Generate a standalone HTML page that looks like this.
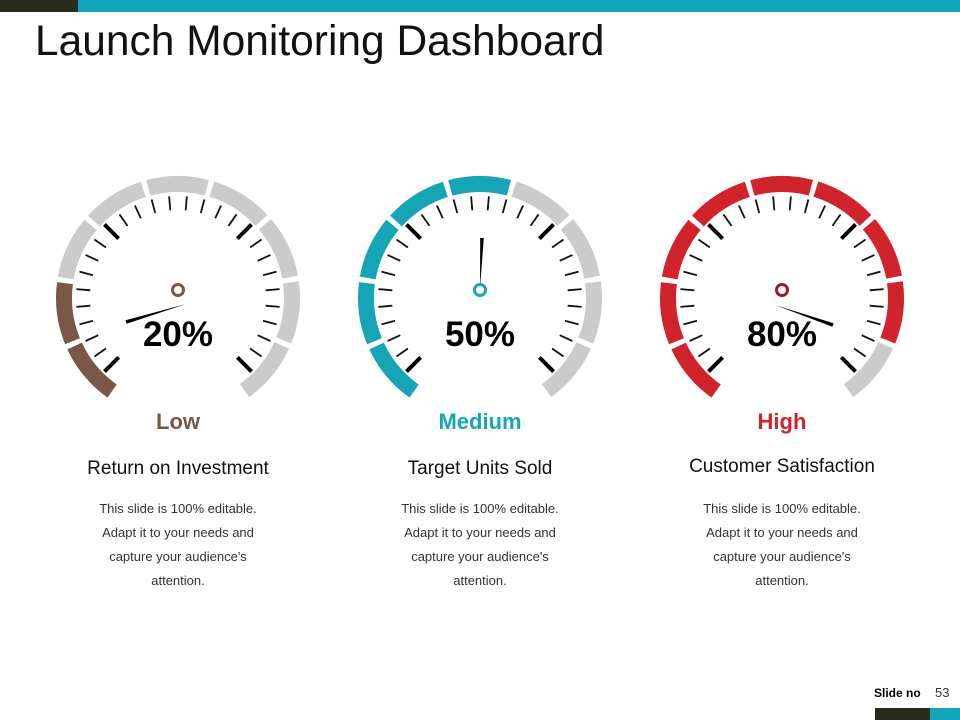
<!DOCTYPE html>
<html><head><meta charset="utf-8"><style>
body{margin:0;background:#fff;}
#w{position:relative;width:960px;height:720px;overflow:hidden;font-family:"Liberation Sans",Arial,sans-serif;}
.t{position:absolute;white-space:nowrap;}
</style></head><body><div id="w">
<div style="position:absolute;left:0;top:0;width:78px;height:12px;background:#2b2a1f"></div>
<div style="position:absolute;left:78px;top:0;width:882px;height:12px;background:#12a4b8"></div>
<div class="t" style="left:35px;top:18px;font-size:42.5px;color:#111;">Launch Monitoring Dashboard</div>
<svg id="s" width="960" height="720" style="position:absolute;left:0;top:0"></svg>
<div class="t" style="left:874px;top:686px;font-size:12px;font-weight:bold;">Slide no</div>
<div class="t" style="left:935px;top:685px;font-size:13px;color:#333;">53</div>
<div style="position:absolute;left:875px;top:708px;width:55px;height:12px;background:#2b2a1f"></div>
<div style="position:absolute;left:930px;top:708px;width:30px;height:12px;background:#12a4b8"></div>
</div>
<script>
var s=document.getElementById('s'),h='';
var G=[{x:178,c:'#7b5748',n:2,lab:'Low',t:'Return on Investment',ty:458,nd:[186,304,126,322]},
{x:480,c:'#16a5b6',n:5,lab:'Medium',t:'Target Units Sold',ty:458,nd:[480,288,482,238]},
{x:782,c:'#d1232c',n:8,lab:'High',t:'Customer Satisfaction',ty:456,nd:[775,305,833,325]}];
function P(cx,cy,r,a){a=a*Math.PI/180;return [cx+r*Math.sin(a),cy-r*Math.cos(a)];}
G.forEach(function(g){
 var cx=g.x,cy=298,ro=122,ri=106,seg=32.4,start=-146;
 for(var i=0;i<9;i++){
  var a0=start+i*seg+1.3,a1=start+(i+1)*seg-1.3;
  var p1=P(cx,cy,ro,a0),p2=P(cx,cy,ro,a1),p3=P(cx,cy,ri,a1),p4=P(cx,cy,ri,a0);
  h+='<path d="M'+p1+' A'+ro+' '+ro+' 0 0 1 '+p2+' L'+p3+' A'+ri+' '+ri+' 0 0 0 '+p4+'Z" fill="'+(i<g.n?g.c:'#cbcbcb')+'"/>';
 }
 [-135,-45,45,135].forEach(function(a){var p=P(cx,cy,84,a),q=P(cx,cy,104,a);h+='<line x1="'+p[0]+'" y1="'+p[1]+'" x2="'+q[0]+'" y2="'+q[1]+'" stroke="#000" stroke-width="4"/>';});
 for(var a=-125;a<=125;a+=10){if(a==-45||a==45)continue;
  var p=P(cx,cy,88,a),q=P(cx,cy,102,a);h+='<line x1="'+p[0]+'" y1="'+p[1]+'" x2="'+q[0]+'" y2="'+q[1]+'" stroke="#111" stroke-width="1.8"/>';}
 var n=g.nd,dx=n[2]-n[0],dy=n[3]-n[1],L=Math.hypot(dx,dy),px=-dy/L*1.8,py=dx/L*1.8;
 h+='<polygon points="'+n[0]+','+n[1]+' '+(n[2]+px)+','+(n[3]+py)+' '+(n[2]-px)+','+(n[3]-py)+'" fill="#000"/>';
 h+='<circle cx="'+cx+'" cy="290" r="5.5" fill="#fff" stroke="'+(g.c=='#d1232c'?'#9b1c24':g.c)+'" stroke-width="3"/>';
 h+='<text x="'+cx+'" y="346" font-size="35" font-weight="bold" text-anchor="middle" font-family="Liberation Sans">'+g.n*10+'%</text>';
})
s.innerHTML=h;
var w=document.getElementById('w');
G.forEach(function(g){
 var d=document.createElement('div');d.innerHTML=
 '<div class="t" style="left:'+(g.x-100)+'px;width:200px;text-align:center;top:409px;font-size:22px;font-weight:bold;color:'+g.c+'">'+g.lab+'</div>'+
 '<div class="t" style="left:'+(g.x-130)+'px;width:260px;text-align:center;top:'+g.ty+'px;font-size:19px;color:#111">'+g.t+'</div>'+
 '<div class="t" style="left:'+(g.x-120)+'px;width:240px;text-align:center;top:497px;font-size:13px;line-height:24px;color:#333;white-space:normal">This slide is 100% editable.<br>Adapt it to your needs and<br>capture your audience\'s<br>attention.</div>';
 w.appendChild(d);
});
</script>
</body></html>
